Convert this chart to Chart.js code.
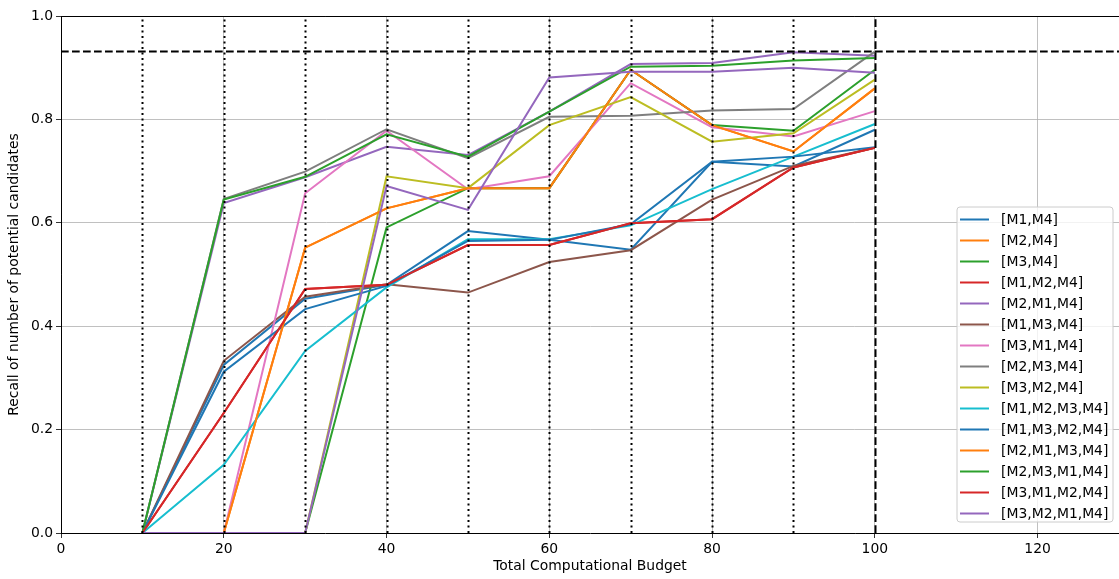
<!DOCTYPE html>
<html>
<head>
<meta charset="utf-8">
<script src="https://cdn.jsdelivr.net/npm/chart.js@4/dist/chart.umd.min.js"></script>
<style>
  html, body { margin: 0; padding: 0; background: #ffffff; }
  #wrap { width: 1119px; height: 579px; }
</style>
</head>
<body>
<div id="wrap"><canvas id="recallChart" width="1119" height="579"></canvas></div>
<script>
// Budget steps at which each strategy was evaluated
const budgets = [10, 20, 30, 40, 50, 60, 70, 80, 90, 100];

// Recall per strategy at each budget step
const recallM1M4       = [0, 0.325, 0.453, 0.480, 0.584, 0.567, 0.548, 0.718, 0.709, 0.780];
const recallM2M4       = [0, 0, 0.552, 0.628, 0.667, 0.667, 0.896, 0.789, 0.738, 0.860];
const recallM3M4       = [0, 0, 0, 0.591, 0.667, 0.667, 0.896, 0.789, 0.778, 0.896];
const recallM1M2M4     = [0, 0.232, 0.472, 0.480, 0.557, 0.557, 0.599, 0.607, 0.707, 0.745];
const recallM2M1M4     = [0, 0.638, 0.688, 0.747, 0.731, 0.815, 0.907, 0.909, 0.930, 0.923];
const recallM1M3M4     = [0, 0.333, 0.457, 0.481, 0.465, 0.524, 0.547, 0.645, 0.710, 0.745];
const recallM3M1M4     = [0, 0, 0.657, 0.778, 0.665, 0.690, 0.870, 0.785, 0.767, 0.816];
const recallM2M3M4     = [0, 0.646, 0.699, 0.781, 0.725, 0.805, 0.807, 0.817, 0.820, 0.931];
const recallM3M2M4     = [0, 0, 0, 0.690, 0.667, 0.789, 0.843, 0.757, 0.773, 0.877];
const recallM1M2M3M4   = [0, 0.132, 0.352, 0.475, 0.568, 0.568, 0.595, 0.665, 0.728, 0.791];
const recallM1M3M2M4   = [0, 0.312, 0.433, 0.478, 0.565, 0.567, 0.597, 0.718, 0.728, 0.746];
const recallM2M1M3M4   = [0, 0, 0.552, 0.628, 0.667, 0.667, 0.896, 0.789, 0.738, 0.860];
const recallM2M3M1M4   = [0, 0.645, 0.689, 0.771, 0.728, 0.815, 0.902, 0.904, 0.914, 0.919];
const recallM3M1M2M4   = [0, 0.232, 0.472, 0.480, 0.557, 0.557, 0.599, 0.607, 0.707, 0.745];
const recallM3M2M1M4   = [0, 0, 0, 0.671, 0.625, 0.881, 0.892, 0.892, 0.900, 0.890];

const strategyLabels = [
  '[M1,M4]', '[M2,M4]', '[M3,M4]', '[M1,M2,M4]', '[M2,M1,M4]', '[M1,M3,M4]',
  '[M3,M1,M4]', '[M2,M3,M4]', '[M3,M2,M4]', '[M1,M2,M3,M4]', '[M1,M3,M2,M4]',
  '[M2,M1,M3,M4]', '[M2,M3,M1,M4]', '[M3,M1,M2,M4]', '[M3,M2,M1,M4]'
];
const strategySeries = [
  recallM1M4, recallM2M4, recallM3M4, recallM1M2M4, recallM2M1M4, recallM1M3M4,
  recallM3M1M4, recallM2M3M4, recallM3M2M4, recallM1M2M3M4, recallM1M3M2M4,
  recallM2M1M3M4, recallM2M3M1M4, recallM3M1M2M4, recallM3M2M1M4
];

// Reference markers: dotted budget checkpoints, the budget cap and the target recall
const checkpointBudgets = [10, 20, 30, 40, 50, 60, 70, 80, 90];
const budgetCap = 100;
const targetRecall = 0.932;

// Axis ranges and tick labels
const xRange = [0, 130];
const xTickValues = [0, 20, 40, 60, 80, 100, 120];
const yRange = [0, 1];
const yTickValues = [0, 0.2, 0.4, 0.6, 0.8, 1.0];

const palette = ['#1f77b4', '#ff7f0e', '#2ca02c', '#d62728', '#9467bd',
                 '#8c564b', '#e377c2', '#7f7f7f', '#bcbd22', '#17becf'];

const FONT = 'DejaVu Sans';
const FONT_SIZE = 13.9;

const n = strategySeries.length;
const datasets = strategySeries.map((vals, i) => ({
  label: strategyLabels[i],
  data: budgets.map((b, k) => ({ x: b, y: vals[k] })),
  borderColor: palette[i % palette.length],
  backgroundColor: palette[i % palette.length],
  borderWidth: 2,
  pointRadius: 0,
  pointHoverRadius: 0,
  tension: 0,
  fill: false,
  // later series are painted over earlier ones
  order: n - i
}));

// Guide lines, top spine and the in-plot legend
const overlayPlugin = {
  id: 'overlay',
  afterDatasetsDraw(chart) {
    const { ctx, chartArea, scales } = chart;
    const xs = scales.x, ys = scales.y;
    ctx.save();
    ctx.beginPath();
    ctx.rect(chartArea.left, chartArea.top, chartArea.right - chartArea.left, chartArea.bottom - chartArea.top);
    ctx.clip();
    ctx.strokeStyle = '#000000';
    ctx.lineWidth = 2;
    // dotted checkpoints
    ctx.setLineDash([2.1, 3.4]);
    checkpointBudgets.forEach(b => {
      const px = Math.round(xs.getPixelForValue(b)) + 0.5;
      ctx.beginPath();
      ctx.moveTo(px, ys.getPixelForValue(yRange[0]));
      ctx.lineTo(px, ys.getPixelForValue(yRange[1]));
      ctx.stroke();
    });
    // dashed budget cap
    ctx.setLineDash([7.7, 3.3]);
    const cx = Math.round(xs.getPixelForValue(budgetCap)) + 0.5;
    ctx.beginPath();
    ctx.moveTo(cx, ys.getPixelForValue(yRange[0]));
    ctx.lineTo(cx, ys.getPixelForValue(yRange[1]));
    ctx.stroke();
    // dashed target recall
    const ty = Math.round(ys.getPixelForValue(targetRecall)) + 0.5;
    ctx.beginPath();
    ctx.moveTo(xs.getPixelForValue(xRange[0]), ty);
    ctx.lineTo(xs.getPixelForValue(xRange[1]), ty);
    ctx.stroke();
    ctx.restore();
  },
  afterDraw(chart) {
    const { ctx, chartArea } = chart;
    ctx.save();
    // top spine
    ctx.strokeStyle = '#000000';
    ctx.lineWidth = 1;
    ctx.beginPath();
    ctx.moveTo(chartArea.left, chartArea.top + 0.5);
    ctx.lineTo(chartArea.right, chartArea.top + 0.5);
    ctx.stroke();

    // legend box in the lower right of the plot
    const bx = 957, by = 207, bw = 156, bh = 315, r = 3;
    ctx.beginPath();
    ctx.moveTo(bx + r, by);
    ctx.lineTo(bx + bw - r, by);
    ctx.quadraticCurveTo(bx + bw, by, bx + bw, by + r);
    ctx.lineTo(bx + bw, by + bh - r);
    ctx.quadraticCurveTo(bx + bw, by + bh, bx + bw - r, by + bh);
    ctx.lineTo(bx + r, by + bh);
    ctx.quadraticCurveTo(bx, by + bh, bx, by + bh - r);
    ctx.lineTo(bx, by + r);
    ctx.quadraticCurveTo(bx, by, bx + r, by);
    ctx.closePath();
    ctx.fillStyle = 'rgba(255,255,255,0.8)';
    ctx.fill();
    ctx.strokeStyle = '#cccccc';
    ctx.lineWidth = 1;
    ctx.stroke();

    ctx.font = FONT_SIZE + 'px "' + FONT + '"';
    ctx.textBaseline = 'middle';
    ctx.textAlign = 'left';
    chart.data.datasets.forEach((ds, i) => {
      const yy = 219.5 + i * 21;
      ctx.strokeStyle = ds.borderColor;
      ctx.lineWidth = 2;
      ctx.setLineDash([]);
      ctx.beginPath();
      ctx.moveTo(960, yy);
      ctx.lineTo(989, yy);
      ctx.stroke();
      ctx.fillStyle = '#000000';
      ctx.fillText(ds.label, 1001, yy + 1);
    });
    ctx.restore();
  }
};

const gridColor = (ctx) => {
  if (!ctx.tick) return '#b0b0b0';
  return ctx.tick.value === 0 ? 'rgba(0,0,0,0)' : '#b0b0b0';
};

new Chart(document.getElementById('recallChart'), {
  type: 'line',
  data: { datasets },
  options: {
    responsive: false,
    animation: false,
    events: [],
    layout: { padding: { top: 16, right: 0, bottom: 0, left: 0 } },
    plugins: {
      legend: { display: false },
      tooltip: { enabled: false },
      title: { display: false }
    },
    scales: {
      x: {
        type: 'linear',
        min: xRange[0],
        max: xRange[1],
        afterBuildTicks: (scale) => { scale.ticks = xTickValues.map(v => ({ value: v })); },
        afterFit: (scale) => { scale.height = 46; },
        ticks: {
          color: '#000000',
          font: { family: FONT, size: FONT_SIZE },
          padding: 3,
          maxRotation: 0,
          callback: (v) => String(v)
        },
        grid: {
          color: gridColor,
          lineWidth: 0.8,
          tickColor: '#000000',
          tickLength: 5,
          drawTicks: true
        },
        border: { display: true, color: '#000000', width: 1 },
        title: {
          display: true,
          text: 'Total Computational Budget',
          color: '#000000',
          font: { family: FONT, size: FONT_SIZE },
          padding: { top: 2, bottom: 4 }
        }
      },
      y: {
        type: 'linear',
        min: yRange[0],
        max: yRange[1],
        afterBuildTicks: (scale) => { scale.ticks = yTickValues.map(v => ({ value: v })); },
        afterFit: (scale) => { scale.width = 61; },
        ticks: {
          color: '#000000',
          font: { family: FONT, size: FONT_SIZE },
          padding: 3,
          callback: (v) => Number(v).toFixed(1)
        },
        grid: {
          color: (ctx) => {
            if (!ctx.tick) return '#b0b0b0';
            if (ctx.tick.value === 0) return 'rgba(0,0,0,0)';
            if (ctx.tick.value === 1) return '#000000';
            return '#b0b0b0';
          },
          lineWidth: 0.8,
          tickColor: '#000000',
          tickLength: 5,
          drawTicks: true
        },
        border: { display: true, color: '#000000', width: 1 },
        title: {
          display: true,
          text: 'Recall of number of potential candidates',
          color: '#000000',
          font: { family: FONT, size: FONT_SIZE },
          padding: { top: 6, bottom: 4 }
        }
      }
    }
  },
  plugins: [overlayPlugin]
});
</script>
</body>
</html>
